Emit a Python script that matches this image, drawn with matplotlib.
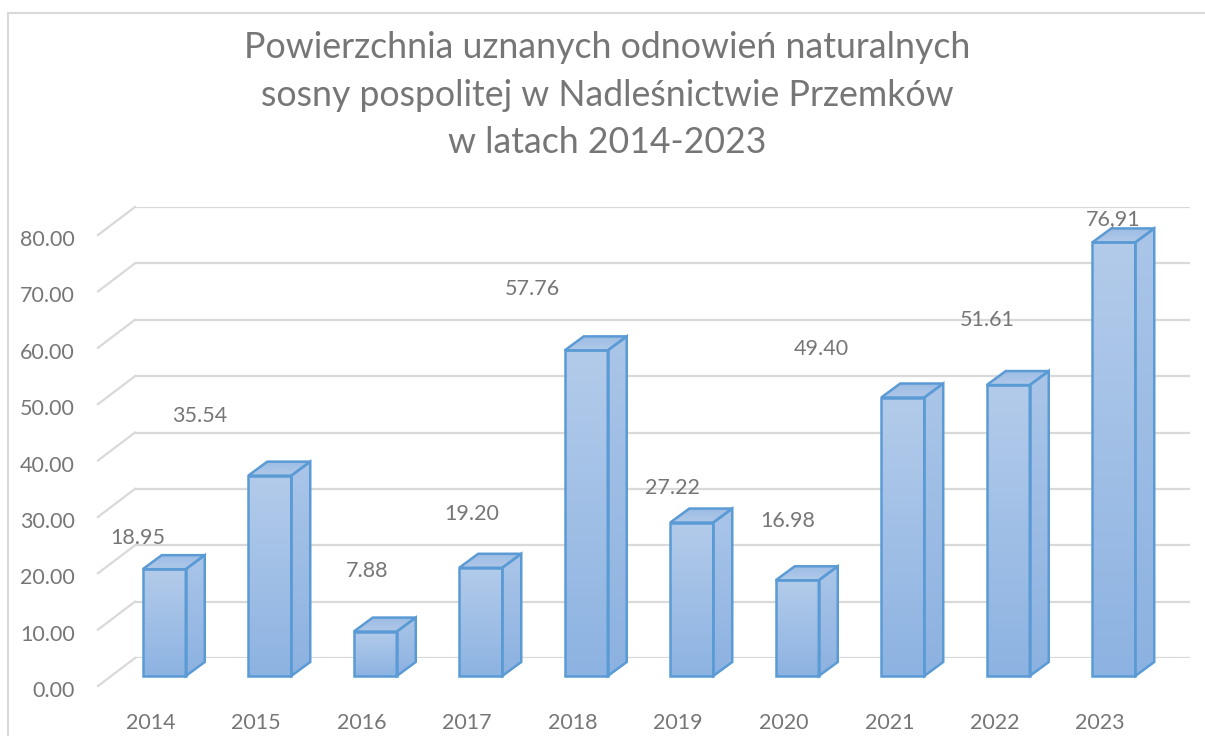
import numpy as np
import matplotlib.pyplot as plt
from matplotlib.patches import Polygon, Rectangle
from matplotlib.colors import LinearSegmentedColormap

# dane
years = ["2014", "2015", "2016", "2017", "2018", "2019", "2020", "2021", "2022", "2023"]
values = [18.95, 35.54, 7.88, 19.20, 57.76, 27.22, 16.98, 49.40, 51.61, 76.91]
value_labels = ["18.95", "35.54", "7.88", "19.20", "57.76", "27.22", "16.98", "49.40", "51.61", "76,91"]
yticks = np.arange(0, 90, 10)

# położenie etykiet wartości względem słupka (jak w Excelu 3D)
label_dx = [-0.47, -0.89, -0.30, -0.31, -0.73, -0.41, -0.31, -0.99, -0.42, -0.23]
label_dy = [2.25, 7.46, 7.5, 6.3, 7.7, 2.9, 7.4, 5.5, 8.4, 1.0]

plt.rcParams["font.family"] = ["Lato", "DejaVu Sans"]
grey = "#767676"
grid_c = "#d9d9d9"
edge_c = "#5b9bd5"

W, H = 1205, 736
fig = plt.figure(figsize=(W / 100, H / 100), dpi=100)
fig.add_artist(Rectangle((8 / W, -0.1), 1.2, 1.1 - 13 / H, transform=fig.transFigure,
                         fill=False, ec=grid_c, lw=1.5))

ax = fig.add_axes([135 / W, 78 / H, 1055 / W, 451 / H])
ax.axis("off")
sx = 1055 / 10.0   # px na kategorię
sy = 451 / 80.0    # px na jednostkę


def off(dx, dy):
    return dx / sx, dy / sy


# ściana tylna i boczna
depth = off(-37, -28)
ax.hlines(yticks, -0.5, 9.5, color=grid_c, lw=1.6, zorder=1)
for v in yticks:
    ax.plot([-0.5, -0.5 + depth[0]], [v, v + depth[1]], color=grid_c, lw=1.6,
            clip_on=False, zorder=1)
    ax.text(-0.5 - 60 / sx, v - 33 / sy, f"{v:.2f}", ha="right", va="center",
            fontsize=15.5, color=grey)


def face(pts, top, bottom):
    pts = np.array(pts)
    poly = Polygon(pts, closed=True, fc="none", ec=edge_c, lw=1.8, zorder=3,
                   clip_on=False, joinstyle="miter")
    ax.add_patch(poly)
    cmap = LinearSegmentedColormap.from_list("g", [top, bottom])
    grad = np.linspace(0, 1, 64).reshape(-1, 1)
    im = ax.imshow(grad, cmap=cmap, aspect="auto", interpolation="bilinear",
                   extent=(pts[:, 0].min(), pts[:, 0].max(), pts[:, 1].min(), pts[:, 1].max()),
                   origin="upper", zorder=2)
    im.set_clip_path(poly)
    im.set_clip_box(fig.bbox)


fx, fy = off(-23.5, -18)
bx, by = off(-4.5, -4)
w = 43 / sx
for i, v in enumerate(values):
    x0, x1 = i - w / 2, i + w / 2
    face([(x1 + fx, fy), (x1 + bx, by), (x1 + bx, v + by), (x1 + fx, v + fy)],
         "#aac5e8", "#8cb2e1")
    face([(x0 + fx, v + fy), (x0 + bx, v + by), (x1 + bx, v + by), (x1 + fx, v + fy)],
         "#9dbce4", "#b0c9e9")
    face([(x0 + fx, fy), (x1 + fx, fy), (x1 + fx, v + fy), (x0 + fx, v + fy)],
         "#b3cbea", "#8db3e2")
    ax.text(i + label_dx[i], v + label_dy[i], value_labels[i], ha="center", va="center",
            fontsize=15.5, color=grey)
    ax.text(i + depth[0], -65 / sy, years[i], ha="center", va="center",
            fontsize=15.5, color=grey, clip_on=False)

ax.set_xlim(-0.5, 9.5)
ax.set_ylim(0, 80)

fig.text(607 / W, 1 - 95 / H,
         "Powierzchnia uznanych odnowień naturalnych\n"
         "sosny pospolitej w Nadleśnictwie Przemków\n"
         "w latach 2014-2023",
         ha="center", va="center", fontsize=25.7, color=grey, linespacing=1.55)

fig.savefig("out.png", dpi=100)
